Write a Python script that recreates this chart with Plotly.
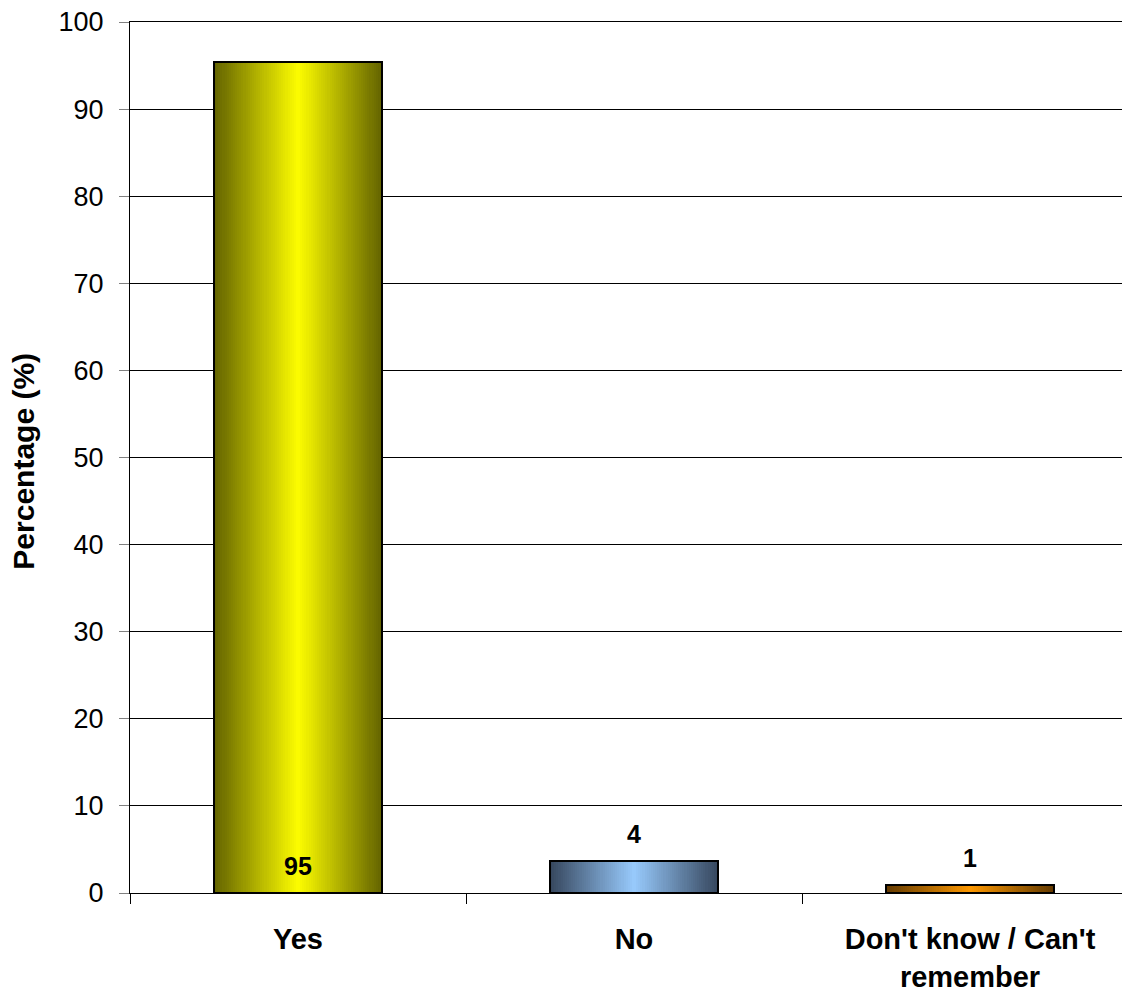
import plotly.graph_objects as go

categories = ["Yes", "No", "Don't know / Can't<br>remember"]
values = [95.4, 3.7, 0.9]
labels = ["95", "4", "1"]
center_colors = [(255, 255, 0), (153, 204, 255), (255, 153, 0)]
edge_colors = [(100, 100, 0), (55, 72, 95), (100, 58, 0)]

FONT = "Arial, Liberation Sans, sans-serif"
BAR_W = 0.5
N = 40

fig = go.Figure()


def lerp(c1, c2, t):
    return "rgb(%d,%d,%d)" % tuple(round(a * (1 - t) + b * t) for a, b in zip(c1, c2))


# nested bars from widest (edge colour) to narrowest (centre colour) -> horizontal gradient
for k in range(N):
    t = 1 - k / N
    fig.add_trace(go.Bar(
        x=categories, y=values,
        width=[BAR_W * t] * len(categories),
        marker=dict(color=[lerp(c, e, t) for c, e in zip(center_colors, edge_colors)],
                    line=dict(width=0)),
        hoverinfo="skip", showlegend=False,
    ))

# outline
fig.add_trace(go.Bar(
    x=categories, y=values, width=[BAR_W] * len(categories),
    marker=dict(color="rgba(0,0,0,0)", line=dict(color="black", width=2)),
    showlegend=False,
))

for cat, v, lab in zip(categories, values, labels):
    fig.add_annotation(
        x=cat, y=(0 if v > 10 else v), yshift=27, text=lab, showarrow=False,
        xanchor="center", yanchor="middle",
        font=dict(family=FONT, size=25, color="black", weight="bold"),
    )

fig.add_annotation(
    xref="paper", yref="paper", x=-0.106, y=0.4954, text="Percentage (%)",
    textangle=-90, showarrow=False, xanchor="center", yanchor="middle",
    font=dict(family=FONT, size=30, color="black", weight="bold"),
)

fig.update_layout(
    width=1130, height=994,
    margin=dict(l=122, r=0, t=14, b=109),
    barmode="overlay", bargap=0,
    plot_bgcolor="white", paper_bgcolor="white",
    font=dict(family=FONT, color="black"),
)
fig.update_xaxes(
    type="category", range=[-0.5, 2.5],
    showline=True, linecolor="black", linewidth=1, mirror=True,
    ticks="outside", tickson="boundaries", ticklen=10, tickcolor="black",
    tickfont=dict(family=FONT, size=29, color="black", weight="bold"),
    ticklabelstandoff=20, ticklabeloverflow="allow",
    showgrid=False,
)
fig.update_yaxes(
    range=[0, 100], tick0=0, dtick=10,
    showline=True, linecolor="black", linewidth=1,
    ticks="outside", ticklen=10, tickcolor="#808080",
    tickfont=dict(family=FONT, size=27, color="black"),
    ticklabelstandoff=10, ticklabeloverflow="allow",
    showgrid=True, gridcolor="black", gridwidth=1, zeroline=False,
)

fig.write_html("out.html")
